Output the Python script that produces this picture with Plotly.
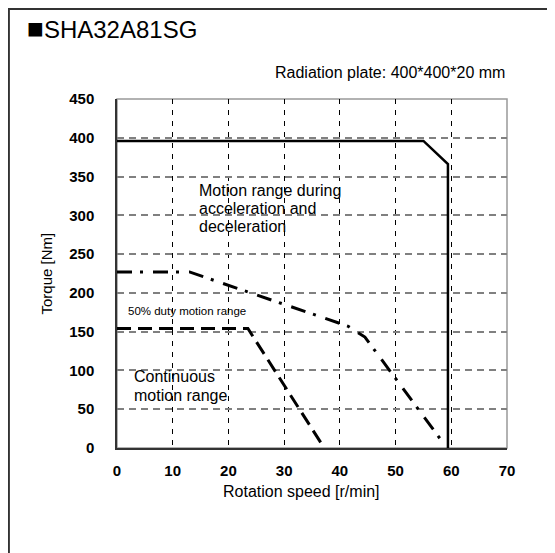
import plotly.graph_objects as go

# Motion range during acceleration and deceleration (solid)
accel_speed = [0, 55, 59.4, 59.4]
accel_torque = [396, 396, 366, 0]

# 50% duty motion range (dash-dot)
duty_speed = [0, 13, 41.5, 44.5, 58.2]
duty_torque = [227, 227, 157, 143, 10]

# Continuous motion range (dashed)
cont_speed = [0, 23.5, 37.2]
cont_torque = [154, 154, 0]

x_ticks = [0, 10, 20, 30, 40, 50, 60, 70]
y_ticks = [0, 50, 100, 150, 200, 250, 300, 350, 400, 450]

FONT = "Liberation Sans, Arial, sans-serif"

fig = go.Figure()
fig.add_trace(go.Scatter(x=accel_speed, y=accel_torque, mode="lines",
                         line=dict(color="black", width=2.5), showlegend=False))
fig.add_trace(go.Scatter(x=duty_speed, y=duty_torque, mode="lines",
                         line=dict(color="black", width=3, dash="15px,8px,3px,10px"),
                         showlegend=False))
fig.add_trace(go.Scatter(x=cont_speed, y=cont_torque, mode="lines",
                         line=dict(color="black", width=3, dash="14px,7px"),
                         showlegend=False))

# page body has an 8px margin, so the figure sits at (8, 8)
fig.update_layout(
    width=555, height=553,
    margin=dict(l=109, r=56, t=91, b=113),
    paper_bgcolor="white", plot_bgcolor="white",
    font=dict(family=FONT, color="black"),
)
fig.update_xaxes(range=[0, 70], tickvals=x_ticks, showgrid=True,
                 gridcolor="black", gridwidth=1, griddash="5px,6px",
                 showline=True, linecolor="#333", linewidth=1.5,
                 zeroline=False, ticks="", ticklabelstandoff=8,
                 tickfont=dict(family=FONT, size=15, weight="bold"))
fig.update_yaxes(range=[0, 450], tickvals=y_ticks, showgrid=True,
                 gridcolor="#808080", gridwidth=1.5, griddash="7px,5px",
                 showline=True, linecolor="#333", linewidth=1.5,
                 zeroline=False, ticks="", ticklabelstandoff=18,
                 tickfont=dict(family=FONT, size=15, weight="bold"))

# plot frame (top / right in gray) and outer page frame
fig.add_shape(type="rect", xref="paper", yref="paper", x0=0, x1=1, y0=0, y1=1,
              line=dict(color="#999", width=1.5), layer="below")
fig.add_shape(type="rect", xref="paper", yref="paper", x0=-0.2772, x1=1.3, y0=-0.4, y1=1.2579,
              line=dict(color="#333", width=2))

def note(text, x, y, size, xref="x", yref="y", anchor="left"):
    fig.add_annotation(text=text, x=x, y=y, xref=xref, yref=yref, showarrow=False,
                       xanchor=anchor, yanchor="middle",
                       font=dict(family=FONT, size=size, color="black"))

note("<span style='font-size:28px'>■</span>SHA32A81SG", -0.237, 1.202, 24, xref="paper", yref="paper")
note("Radiation plate: 400*400*20 mm", 1.0, 1.0754, 16, xref="paper", yref="paper", anchor="right")
note("Motion range during", 14.3, 332, 16)
note("acceleration and", 14.3, 308.5, 16)
note("deceleration", 14.3, 285, 16)
note("50% duty motion range", 1.7, 176.6, 11.5)
note("Continuous", 2.77, 92.4, 16)
note("motion range", 2.77, 68, 16)
note("Rotation speed [r/min]", 0.4736, -0.125, 16, xref="paper", yref="paper", anchor="center")
fig.add_annotation(text="Torque [Nm]", x=-0.182, y=0.5, xref="paper", yref="paper",
                   showarrow=False, textangle=-90, xanchor="center", yanchor="middle",
                   font=dict(family=FONT, size=15, color="black"))

fig.write_html("out.html")
